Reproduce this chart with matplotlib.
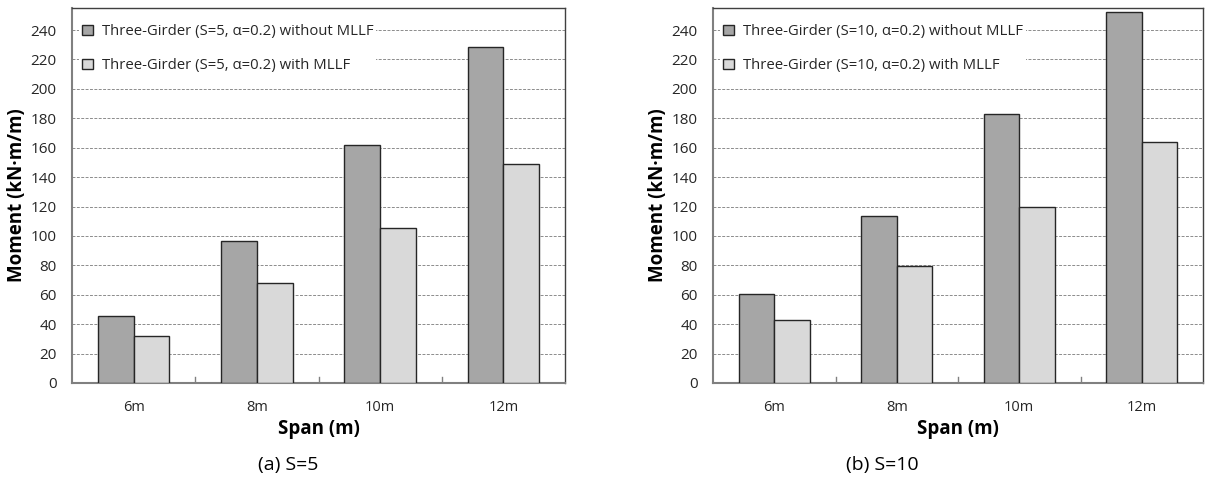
import matplotlib.pyplot as plt
import numpy as np

plt.rcParams['font.family'] = ['Open Sans', 'DejaVu Sans']

spans = ['6m', '8m', '10m', '12m']
s5_without = [45.3, 96.3, 161.8, 228.2]
s5_with = [32.2, 67.7, 105.2, 148.7]
s10_without = [60.7, 113.3, 182.9, 252.0]
s10_with = [42.6, 79.3, 119.4, 164.0]
yticks = list(range(0, 241, 20))

fig = plt.figure(figsize=(12.05, 4.8), dpi=100)
W, H = 1205, 480

def panel(rect, vals_without, vals_with, s_label, caption, cap_x):
    ax = fig.add_axes(rect)
    x = np.arange(len(spans))
    w = 0.29
    ax.bar(x - w / 2, vals_without, w, color='#a6a6a6', edgecolor='#262626',
           linewidth=1, zorder=3,
           label='Three-Girder (S=%s, \u03b1=0.2) without MLLF' % s_label)
    ax.bar(x + w / 2, vals_with, w, color='#d9d9d9', edgecolor='#262626',
           linewidth=1, zorder=3,
           label='Three-Girder (S=%s, \u03b1=0.2) with MLLF' % s_label)
    ax.set_xlim(-0.5, len(spans) - 0.5)
    ax.set_ylim(0, 255)
    ax.set_yticks(yticks)
    ax.set_xticks(x)
    ax.set_xticklabels(spans)
    ax.tick_params(axis='x', length=0, pad=12, labelsize=10.5, labelcolor='#262626')
    ax.tick_params(axis='y', length=0, pad=11, labelsize=11, labelcolor='#262626')
    # group separators as small inward ticks
    for b in x[:-1] + 0.5:
        ax.plot([b, b], [0, 4], color='#808080', lw=1, zorder=2)
    ax.grid(axis='y', linestyle=(0, (3, 1.5)), color='#8c8c8c', linewidth=0.7, zorder=1)
    ax.set_axisbelow(True)
    for side in ['left', 'bottom']:
        ax.spines[side].set_color('#808080')
        ax.spines[side].set_linewidth(1.5)
    for side in ['top', 'right']:
        ax.spines[side].set_color('#404040')
        ax.spines[side].set_linewidth(1)
    ax.set_ylabel('Moment (kN\u00b7m/m)', fontsize=13.5, fontweight='bold', va='center')
    ax.yaxis.set_label_coords(-55 / (rect[2] * W), 0.5)
    ax.set_xlabel('Span (m)', fontsize=13.5, fontweight='bold', labelpad=3)
    leg = ax.legend(loc='upper left', bbox_to_anchor=(0.0, 0.985), frameon=True,
                    facecolor='white', edgecolor='none', framealpha=1,
                    fontsize=10.7, handlelength=0.7, handleheight=0.7,
                    handletextpad=0.6, labelspacing=1.3, borderpad=0.2,
                    borderaxespad=0.5, fancybox=False)
    for t in leg.get_texts():
        t.set_color('#262626')
    leg.set_zorder(5)
    fig.text(cap_x / W, 1 - 465 / H, caption, ha='center', va='center', fontsize=14)
    return ax

panel([72 / W, 1 - 383 / H, (565 - 72) / W, (383 - 8) / H],
      s5_without, s5_with, '5', '(a) S=5', 288)
panel([713 / W, 1 - 383 / H, (1203 - 713) / W, (383 - 8) / H],
      s10_without, s10_with, '10', '(b) S=10', 882)

fig.savefig('out.png', dpi=100)
